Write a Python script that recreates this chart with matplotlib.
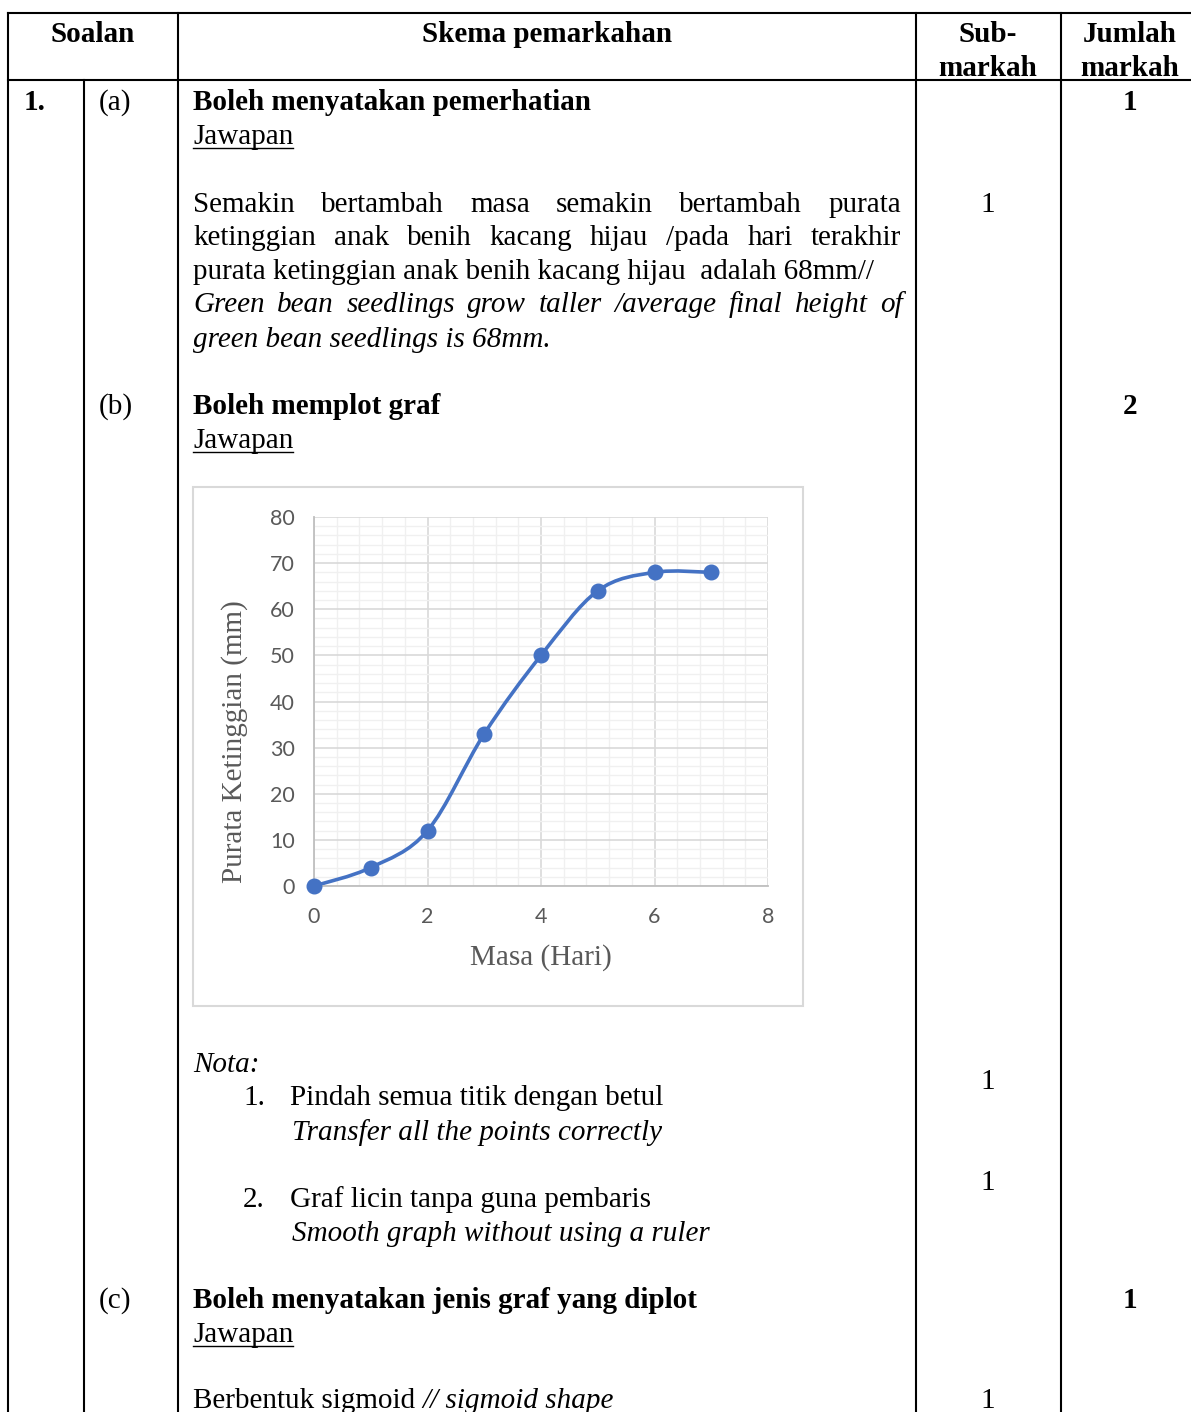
import matplotlib
matplotlib.use("Agg")
import matplotlib.pyplot as plt
from matplotlib.path import Path
from matplotlib.patches import PathPatch, Rectangle
from matplotlib.ticker import MultipleLocator

# data of the graph
days = [0, 1, 2, 3, 4, 5, 6, 7]
height_mm = [0, 4, 12, 33, 50, 64, 68, 68]
x_label = "Masa (Hari)"
y_label = "Purata Ketinggian (mm)"

W, H = 1191, 1412
SERIF = "Liberation Serif"
FS = 21

plt.rcParams["font.family"] = ["Lato", "DejaVu Sans"]

fig = plt.figure(figsize=(W / 100, H / 100), dpi=100)
fig.patch.set_facecolor("white")

# page in pixel coordinates
page = fig.add_axes([0, 0, 1, 1], zorder=0)
page.set_xlim(0, W)
page.set_ylim(H, 0)
page.axis("off")

renderer = fig.canvas.get_renderer()


def txt(x, y, s, weight="normal", style="normal", ha="left"):
    return page.text(x, y, s, ha=ha, va="baseline", fontsize=FS,
                     fontweight=weight, fontstyle=style, family=SERIF,
                     color="black")


def width_of(t):
    return t.get_window_extent(renderer).width


def justify(x0, x1, y, line, style="normal"):
    words = line.split()
    objs = [txt(0, y, w, style=style) for w in words]
    widths = [width_of(o) for o in objs]
    gap = (x1 - x0 - sum(widths)) / (len(words) - 1)
    x = x0
    for o, w in zip(objs, widths):
        o.set_x(x)
        x += w + gap


def underlined(x, y, s):
    t = txt(x, y, s)
    w = width_of(t)
    page.plot([x, x + w], [y + 3.5, y + 3.5], color="black", lw=1.0)


# --- table lines ---
lw_tab = 1.5
page.plot([8, W], [13, 13], color="black", lw=lw_tab)
page.plot([8, W], [80, 80], color="black", lw=lw_tab)
for xv in [8, 178, 916, 1061]:
    page.plot([xv, xv], [13, H], color="black", lw=lw_tab)
page.plot([84, 84], [80, H], color="black", lw=lw_tab)

# --- header ---
txt(93, 42, "Soalan", weight="bold", ha="center")
txt(547, 42, "Skema pemarkahan", weight="bold", ha="center")
txt(988, 42, "Sub-", weight="bold", ha="center")
txt(988, 76, "markah", weight="bold", ha="center")
txt(1130, 42, "Jumlah", weight="bold", ha="center")
txt(1130, 76, "markah", weight="bold", ha="center")

# --- (a) ---
txt(24, 110, "1.", weight="bold")
txt(99, 110, "(a)")
txt(193, 110, "Boleh menyatakan pemerhatian", weight="bold")
txt(1130, 110, "1", weight="bold", ha="center")
underlined(193, 144, "Jawapan")
justify(193, 901, 212, "Semakin bertambah masa semakin bertambah purata")
justify(193, 901, 245, "ketinggian anak benih kacang hijau /pada hari terakhir")
txt(193, 279, "purata ketinggian anak benih kacang hijau  adalah 68mm//")
justify(193, 903, 312, "Green bean seedlings grow taller /average final height of",
        style="italic")
txt(193, 347, "green bean seedlings is 68mm.", style="italic")
txt(988, 212, "1", ha="center")

# --- (b) ---
txt(99, 414, "(b)")
txt(193, 414, "Boleh memplot graf", weight="bold")
txt(1130, 414, "2", weight="bold", ha="center")
underlined(193, 448, "Jawapan")

page.add_patch(Rectangle((193, 487), 610, 519, fill=False,
                         edgecolor="#d9d9d9", lw=1.5))

txt(193, 1072, "Nota:", style="italic")
txt(243, 1105, "1.")
txt(290, 1105, "Pindah semua titik dengan betul")
txt(292, 1140, "Transfer all the points correctly", style="italic")
txt(988, 1089, "1", ha="center")
txt(243, 1207, "2.")
txt(290, 1207, "Graf licin tanpa guna pembaris")
txt(292, 1241, "Smooth graph without using a ruler", style="italic")
txt(988, 1190, "1", ha="center")

# --- (c) ---
txt(99, 1308, "(c)")
txt(193, 1308, "Boleh menyatakan jenis graf yang diplot", weight="bold")
txt(1130, 1308, "1", weight="bold", ha="center")
underlined(193, 1342, "Jawapan")
t = txt(193, 1408, "Berbentuk sigmoid")
txt(193 + width_of(t) + 7, 1408, "// sigmoid shape", style="italic")
txt(988, 1408, "1", ha="center")

# --- chart ---
ax = fig.add_axes([314 / W, 1 - 886 / H, 454 / W, 369 / H], zorder=1)
ax.patch.set_alpha(0)
ax.set_xlim(0, 8)
ax.set_ylim(0, 80)
ax.xaxis.set_major_locator(MultipleLocator(2))
ax.xaxis.set_minor_locator(MultipleLocator(0.4))
ax.yaxis.set_major_locator(MultipleLocator(10))
ax.yaxis.set_minor_locator(MultipleLocator(2))
ax.grid(which="minor", color="#f0f0f0", lw=1.0)
ax.grid(which="major", color="#d9d9d9", lw=1.2)
ax.set_axisbelow(True)
for side in ["top", "right"]:
    ax.spines[side].set_visible(False)
for side in ["left", "bottom"]:
    ax.spines[side].set_color("#bfbfbf")
    ax.spines[side].set_linewidth(1.3)
ax.tick_params(which="both", length=0, labelsize=15.5, labelcolor="#595959")
ax.tick_params(axis="y", pad=14)
ax.tick_params(axis="x", pad=15)

ax.set_xlabel(x_label, family=SERIF, fontsize=FS, color="#595959", va="center")
ax.xaxis.set_label_coords(0.5, -0.195)
ax.set_ylabel(y_label, family=SERIF, fontsize=FS, color="#595959", va="center")
ax.yaxis.set_label_coords(-0.176, 0.39)

# smooth line through the points (bezier like the spreadsheet smoothing)
pts = list(zip(days, height_mm))
n = len(pts)
verts = [pts[0]]
codes = [Path.MOVETO]
for i in range(n - 1):
    p0 = pts[max(i - 1, 0)]
    p1 = pts[i]
    p2 = pts[i + 1]
    p3 = pts[min(i + 2, n - 1)]
    c1 = (p1[0] + (p2[0] - p0[0]) / 6, p1[1] + (p2[1] - p0[1]) / 6)
    c2 = (p2[0] - (p3[0] - p1[0]) / 6, p2[1] - (p3[1] - p1[1]) / 6)
    verts += [c1, c2, p2]
    codes += [Path.CURVE4] * 3
ax.add_patch(PathPatch(Path(verts, codes), fill=False, edgecolor="#4472C4",
                       lw=2.6, capstyle="round", joinstyle="round", zorder=2))
ax.plot(days, height_mm, "o", color="#4472C4", ms=10.5, zorder=3, clip_on=False)

fig.savefig("out.png", dpi=100)
print("Done")
